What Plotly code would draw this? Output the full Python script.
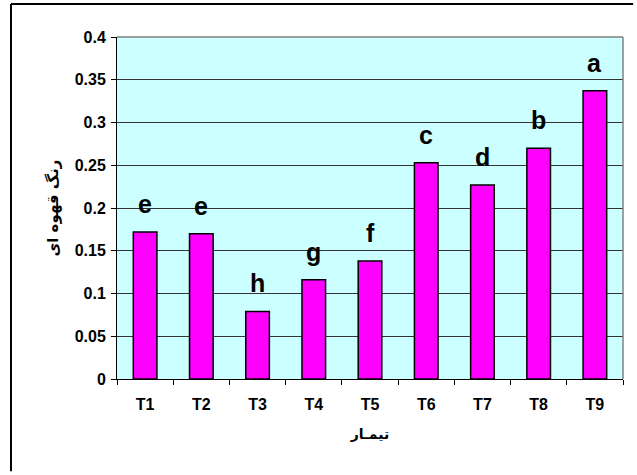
import plotly.graph_objects as go

categories = ["T1", "T2", "T3", "T4", "T5", "T6", "T7", "T8", "T9"]
values = [0.172, 0.170, 0.079, 0.116, 0.138, 0.253, 0.227, 0.270, 0.337]
letters = ["e", "e", "h", "g", "f", "c", "d", "b", "a"]
y_ticks = [0, 0.05, 0.1, 0.15, 0.2, 0.25, 0.3, 0.35, 0.4]
y_tick_text = ["0", "0.05", "0.1", "0.15", "0.2", "0.25", "0.3", "0.35", "0.4"]
x_title = "تیمـار"
y_title = "رنگ قهوه ای"

FONT = "Arial, Liberation Sans, DejaVu Sans, sans-serif"
AR_FONT = "DejaVu Sans, sans-serif"

fig = go.Figure()
fig.add_trace(go.Bar(
    x=categories, y=values,
    marker=dict(color="#FF00FF", line=dict(color="black", width=1.5)),
    width=0.42,
))

for c, v, t in zip(categories, values, letters):
    fig.add_annotation(x=c, y=v, text=t, showarrow=False, yanchor="bottom",
                       yshift=12, font=dict(family=FONT, size=25, color="black", weight="bold"))

# outer chart border (left and top edges visible in the frame)
fig.add_shape(type="line", xref="paper", yref="paper", x0=-0.2095, x1=-0.2095, y0=-0.27, y1=1.0965,
              line=dict(color="black", width=2))
fig.add_shape(type="line", xref="paper", yref="paper", x0=-0.2095, x1=1.02, y0=1.0965, y1=1.0965,
              line=dict(color="black", width=2))
# gray top and right plot-area borders
fig.add_shape(type="line", xref="paper", yref="paper", x0=0, x1=1, y0=1, y1=1,
              line=dict(color="#808080", width=1.5))
fig.add_shape(type="line", xref="paper", yref="paper", x0=1, x1=1, y0=0, y1=1,
              line=dict(color="#808080", width=1.5))

fig.update_layout(
    width=637, height=475,
    margin=dict(l=117, r=14, t=37, b=96),
    paper_bgcolor="white",
    plot_bgcolor="#CCFFFF",
    showlegend=False,
    font=dict(family=FONT, color="black"),
)
fig.update_xaxes(
    type="category",
    showline=True, linecolor="black", linewidth=1,
    ticks="outside", tickson="boundaries", ticklen=5, tickcolor="black",
    tickfont=dict(family=FONT, size=16, weight="bold"),
    ticklabelstandoff=11,
    showgrid=False,
    title=dict(text=x_title, font=dict(family=AR_FONT, size=14, weight="bold"), standoff=16),
)
fig.update_yaxes(
    range=[0, 0.4],
    tickvals=y_ticks, ticktext=y_tick_text,
    showline=True, linecolor="black", linewidth=1,
    ticks="outside", ticklen=5, tickcolor="black",
    tickfont=dict(family=FONT, size=16, weight="bold"),
    ticklabelstandoff=2,
    showgrid=True, gridcolor="#333333", gridwidth=1,
    zeroline=False,
    title=dict(text=y_title, font=dict(family=AR_FONT, size=15, weight="bold"), standoff=12),
)

fig.write_html("out.html", config={"displayModeBar": False})
